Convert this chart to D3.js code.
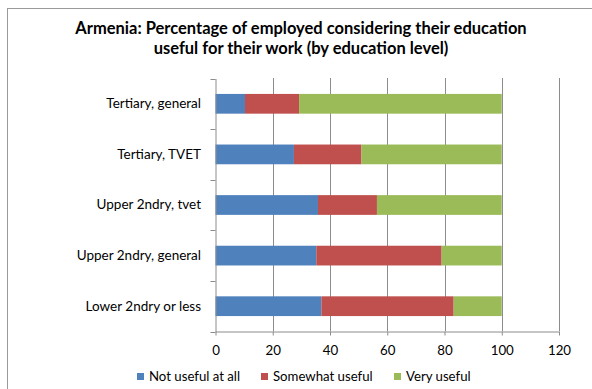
<!DOCTYPE html>
<html><head><meta charset="utf-8">
<script src="https://cdn.jsdelivr.net/npm/d3@7"></script>
<style>body{margin:0;background:#fff}svg{display:block}</style>
</head><body><svg id="c" width="592" height="389"></svg>
<script>
const categories = ["Tertiary, general","Tertiary, TVET","Upper 2ndry, tvet","Upper 2ndry, general","Lower 2ndry or less"];
const seriesNames = ["Not useful at all","Somewhat useful","Very useful"];
const notUseful = [10.3, 27.4, 35.8, 35.2, 37.0];
const somewhatUseful = [18.9, 23.6, 20.6, 43.8, 46.2];
const veryUseful = [70.8, 49.0, 43.6, 21.0, 16.8];
const xTicks = [0,20,40,60,80,100,120];
const colors = ["#4F81BD","#C0504D","#9BBB59"];

const font = "Lato, 'Open Sans', sans-serif";
const svg = d3.select("#c");
svg.append("rect").attr("x",7.5).attr("y",8.5).attr("width",600).attr("height",400)
  .attr("fill","#fff").attr("stroke","#9a9a9a");

const x = d3.scaleLinear().domain([0,120]).range([215.5,559]);
const y = d3.scaleBand().domain(categories).range([78.5,331.5]).paddingInner(0.61).paddingOuter(0.305);

// title
const title = svg.append("text").attr("text-anchor","middle").attr("font-family",font)
  .attr("font-weight","bold").attr("font-size",16.5).attr("fill","#000");
title.append("tspan").attr("x",301).attr("y",33.5).text("Armenia: Percentage of employed considering their education");
title.append("tspan").attr("x",301).attr("y",53.5).text("useful for their work (by education level)");

// gridlines
svg.append("g").selectAll("line").data(xTicks.slice(1)).join("line")
  .attr("x1",d=>Math.round(x(d))+0.5).attr("x2",d=>Math.round(x(d))+0.5)
  .attr("y1",78).attr("y2",331).attr("stroke","#8c8c8c").attr("stroke-width",1);

// stacked bars
const rows = categories.map((c,i)=>({cat:c, v:[notUseful[i],somewhatUseful[i],veryUseful[i]]}));
const stack = d3.stack().keys([0,1,2]).value((d,k)=>d.v[k]);
const stacked = stack(rows);
svg.append("g").selectAll("g").data(stacked).join("g").attr("fill",(d,i)=>colors[i])
  .selectAll("rect").data(d=>d).join("rect")
  .attr("x",d=>x(d[0])).attr("width",d=>x(d[1])-x(d[0]))
  .attr("y",d=>y(d.data.cat)).attr("height",y.bandwidth());

// x axis
const xa = svg.append("g").attr("transform","translate(0,331.5)")
  .call(d3.axisBottom(x).tickValues(xTicks).tickSize(4).tickPadding(10).tickSizeOuter(0));
xa.select(".domain").attr("stroke","#8c8c8c");
xa.selectAll(".tick line").attr("stroke","#8c8c8c");
xa.selectAll("text").attr("font-family",font).attr("font-size",13.3).attr("fill","#000");

// y axis
const ya = svg.append("g").attr("transform","translate(215.5,0)")
  .call(d3.axisLeft(y).tickSize(0).tickPadding(14.5));
ya.select(".domain").attr("stroke","#8c8c8c");
ya.selectAll("text").attr("font-family",font).attr("font-size",13.5).attr("fill","#000");
const bounds = [y.range()[0]].concat(categories.map(c=>y(c)+y.bandwidth()+y.step()*y.paddingInner()/2));
bounds[bounds.length-1] = y.range()[1];
svg.append("g").selectAll("line").data(bounds).join("line")
  .attr("x1",210.5).attr("x2",215.5).attr("y1",d=>Math.round(d)+0.5).attr("y2",d=>Math.round(d)+0.5)
  .attr("stroke","#8c8c8c");

// legend
const legX = [137,261,394];
const leg = svg.append("g").selectAll("g").data(seriesNames).join("g")
  .attr("transform",(d,i)=>`translate(${legX[i]},373)`);
leg.append("rect").attr("width",7).attr("height",7).attr("fill",(d,i)=>colors[i]);
leg.append("text").attr("x",12).attr("y",8).attr("font-family",font).attr("font-size",13.2)
  .attr("fill","#000").text(d=>d);
</script></body></html>
